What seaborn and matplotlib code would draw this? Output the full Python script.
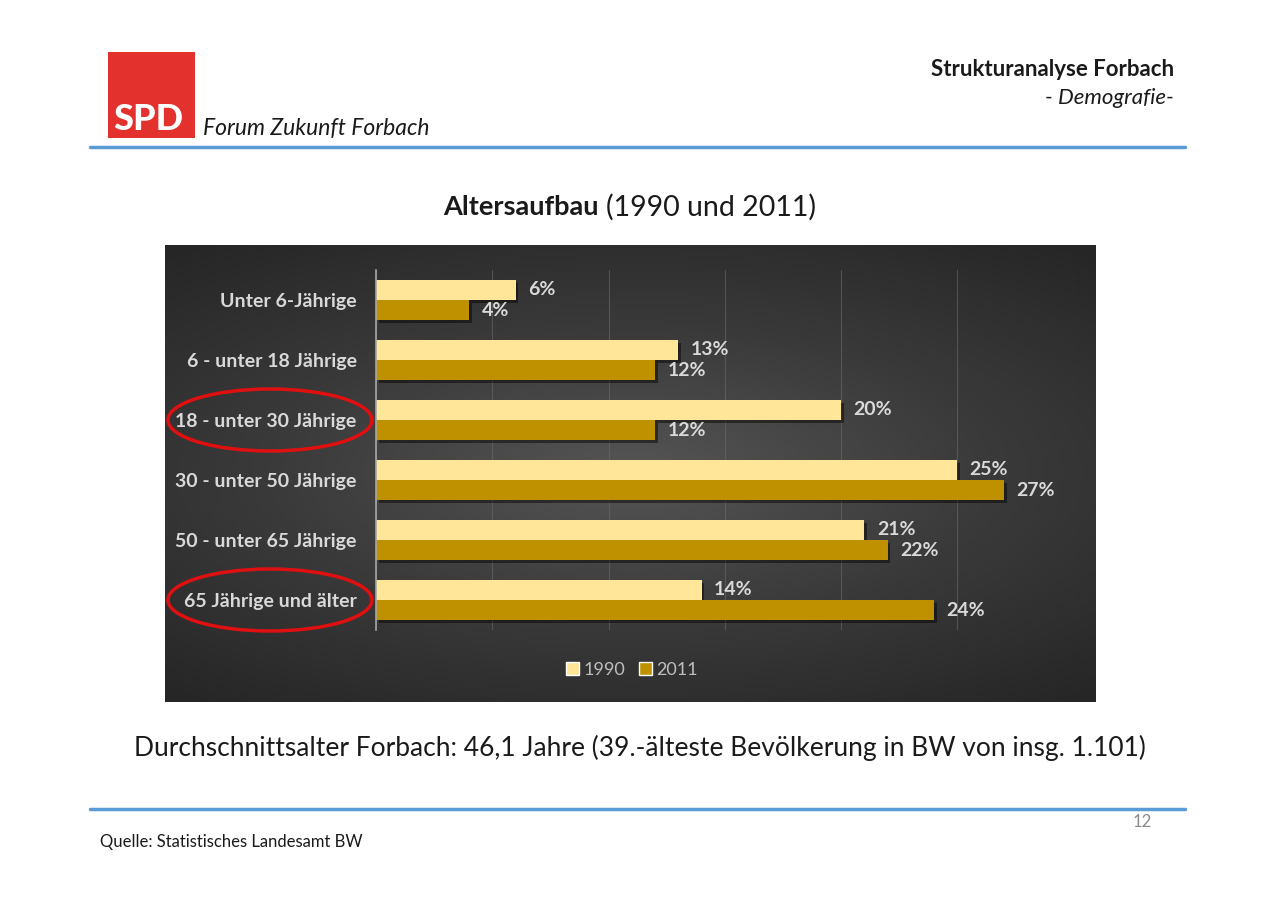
import numpy as np
import pandas as pd
import seaborn as sns
import matplotlib.pyplot as plt
from matplotlib.patches import Ellipse, Rectangle, Patch
import matplotlib.patheffects as pe

# Altersaufbau Forbach, Anteile in %
gruppen = ['Unter 6-Jährige', '6 - unter 18 Jährige', '18 - unter 30 Jährige',
           '30 - unter 50 Jährige', '50 - unter 65 Jährige', '65 Jährige und älter']
werte_1990 = [6, 13, 20, 25, 21, 14]
werte_2011 = [4, 12, 12, 27, 22, 24]
jahre = ['1990', '2011']

df = pd.DataFrame({
    'gruppe': gruppen * 2,
    'jahr': [jahre[0]] * len(gruppen) + [jahre[1]] * len(gruppen),
    'anteil': werte_1990 + werte_2011,
})

sns.set_theme(style='white')
plt.rcParams['font.family'] = ['Lato', 'DejaVu Sans']

W, H = 1276, 900
fig = plt.figure(figsize=(W / 100, H / 100), dpi=100)
fig.patch.set_facecolor('white')

def fx(x):
    return x / W

def fy(y):
    return 1 - y / H

# dunkler Hintergrund mit Verlauf
bg = fig.add_axes([fx(165), fy(702), fx(1096 - 165), (702 - 245) / H])
gx, gy = np.meshgrid(np.linspace(-1, 1, 400), np.linspace(-1, 1, 200))
r = np.sqrt((gx * 0.9) ** 2 + (gy * 1.1) ** 2)
bg.imshow(np.clip(r, 0, 1.4), cmap=sns.blend_palette(['#555555', '#3a3a3a', '#262626'], as_cmap=True),
          aspect='auto', extent=[0, 1, 0, 1], vmin=0, vmax=1.4)
bg.axis('off')

# Balkendiagramm
ax = fig.add_axes([fx(376), fy(630), fx(30 * 23.25), 360 / H])
ax.patch.set_alpha(0)
sns.barplot(data=df, x='anteil', y='gruppe', hue='jahr', hue_order=jahre,
            palette=['#FFE699', '#BF9000'], width=0.667, orient='h', ax=ax,
            saturation=1, legend=False, linewidth=0, edgecolor='none')
ax.set_xlim(0, 30)
ax.set_ylim(5.5, -0.5)
ax.set_xticks(range(0, 31, 5))
ax.grid(axis='x', color='#6a6a6a', linewidth=0.8, alpha=0.6)
ax.set_axisbelow(True)
ax.tick_params(axis='x', bottom=False, labelbottom=False)
ax.tick_params(axis='y', left=False, pad=8, labelsize=14, labelcolor='#D9D9D9')
for lbl in ax.get_yticklabels():
    lbl.set_fontweight('bold')
ax.set_xlabel('')
ax.set_ylabel('')
for s in ['top', 'right', 'bottom']:
    ax.spines[s].set_visible(False)
ax.spines['left'].set_color('#A6A6A6')
ax.spines['left'].set_linewidth(1.2)

for cont in ax.containers:
    for bar in cont:
        bar.set_path_effects([pe.withSimplePatchShadow(offset=(2, -2), shadow_rgbFace='black', alpha=0.45),
                              pe.Normal()])
    ax.bar_label(cont, labels=[f'{int(b.get_width())}%' for b in cont], padding=9,
                 color='#D9D9D9', fontsize=14, fontweight='bold')

# Legende
handles = [Patch(facecolor='#FFE699'), Patch(facecolor='#BF9000')]
fig.legend(handles, jahre, loc='center', bbox_to_anchor=(fx(632), fy(670)), ncol=2,
           frameon=False, fontsize=13, labelcolor='#BFBFBF', handlelength=0.7,
           handleheight=0.7, handletextpad=0.25, columnspacing=0.8)

# Overlay für Folienelemente
ov = fig.add_axes([0, 0, 1, 1], zorder=10)
ov.set_xlim(0, W)
ov.set_ylim(H, 0)
ov.axis('off')
ov.patch.set_alpha(0)

ov.add_patch(Rectangle((108, 52), 87, 86, facecolor='#E3312D', edgecolor='none'))
ov.text(148, 120, 'SPD', color='white', fontsize=26, fontweight='black', ha='center', va='center')
ov.text(203, 129, 'Forum Zukunft Forbach', fontsize=16.5, style='italic', color='#1a1a1a', va='center')
ov.text(1174, 69, 'Strukturanalyse Forbach', fontsize=16, fontweight='bold', color='#1a1a1a',
        ha='right', va='center')
ov.text(1174, 98, '- Demografie-', fontsize=16, style='italic', color='#1a1a1a', ha='right', va='center')
ov.plot([90, 1185], [147, 147], color='#5B9BD5', linewidth=2.5)

ov.text(599, 207, 'Altersaufbau', fontsize=19.5, fontweight='bold', color='#1a1a1a', ha='right', va='center')
ov.text(606, 207, '(1990 und 2011)', fontsize=20.5, color='#1a1a1a', ha='left', va='center')

ov.text(640, 748, 'Durchschnittsalter Forbach: 46,1 Jahre (39.-älteste Bevölkerung in BW von insg. 1.101)',
        fontsize=19, color='#1a1a1a', ha='center', va='center')

ov.plot([90, 1185], [809, 809], color='#5B9BD5', linewidth=2.5)
ov.text(1142, 822, '12', fontsize=12, color='#8c8c8c', ha='center', va='center')
ov.text(100, 842, 'Quelle: Statistisches Landesamt BW', fontsize=12, color='#1a1a1a', va='center')

ov.add_patch(Ellipse((270, 420), 204, 62, fill=False, edgecolor='#E01010', linewidth=2.5))
ov.add_patch(Ellipse((270, 600), 204, 62, fill=False, edgecolor='#E01010', linewidth=2.5))

fig.savefig('out.png', dpi=100)
